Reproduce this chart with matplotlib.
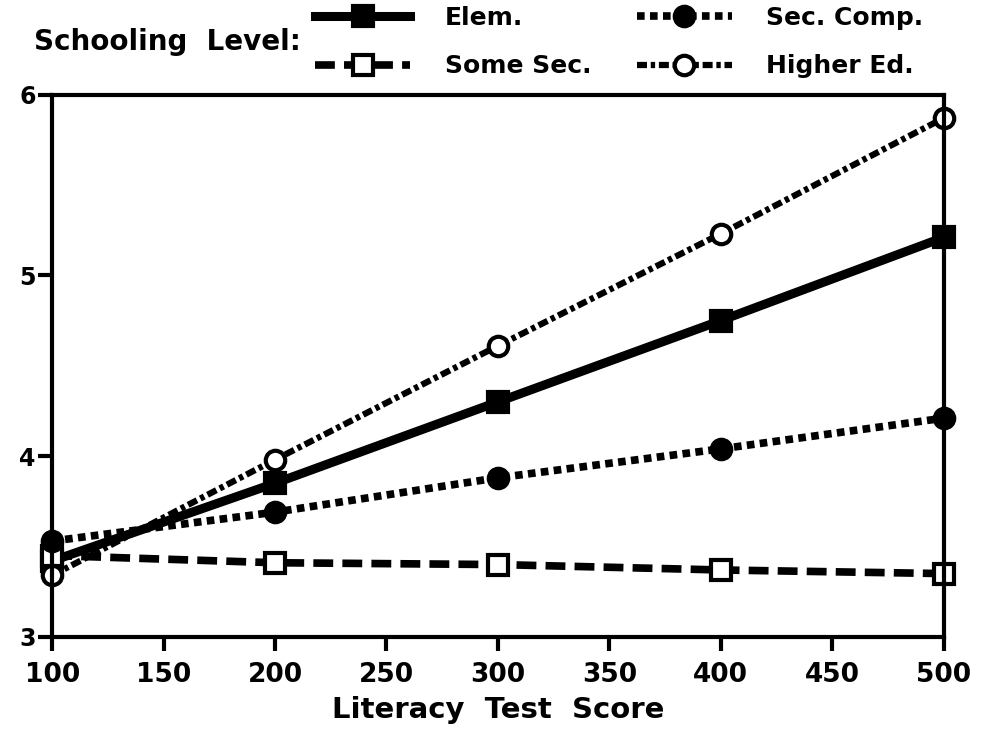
import numpy as np
import matplotlib.pyplot as plt
from matplotlib.lines import Line2D

# literacy score on x
scores = [100, 200, 300, 400, 500]
elem = [3.42, 3.85, 4.30, 4.75, 5.21]
some_sec = [3.45, 3.41, 3.40, 3.37, 3.35]
sec_comp = [3.53, 3.69, 3.88, 4.04, 4.21]
higher_ed = [3.34, 3.98, 4.61, 5.23, 5.87]

x_ticks = [100, 150, 200, 250, 300, 350, 400, 450, 500]
y_ticks = [3, 4, 5, 6]

plt.rcParams['font.family'] = ['DejaVu Sans']
plt.rcParams['font.weight'] = 'bold'

fig = plt.figure(figsize=(9.85, 7.51), dpi=100)
ax = fig.add_axes([0.053, 0.152, 0.905, 0.722])

styles = {
    'Elem.': dict(ls='-', marker='s', mfc='black', lw=6.5),
    'Some Sec.': dict(dashes=(2.6, 1.2), marker='s', mfc='white', lw=5.5),
    'Sec. Comp.': dict(dashes=(1.0, 0.7), marker='o', mfc='black', lw=5.5),
    'Higher Ed.': dict(dashes=(1.6, 0.6, 0.7, 0.6), marker='o', mfc='white', lw=4.5),
}
series = [('Elem.', elem), ('Some Sec.', some_sec),
          ('Sec. Comp.', sec_comp), ('Higher Ed.', higher_ed)]

handles = []
for name, vals in series:
    st = styles[name]
    l, = ax.plot(scores, vals, color='black', ms=14, mew=3, mec='black',
                 clip_on=False, label=name, **st)
    handles.append(l)

ax.set_xlim(100, 500)
ax.set_ylim(3, 6)
ax.set_xticks(x_ticks)
ax.set_yticks(y_ticks)
for s in ax.spines.values():
    s.set_linewidth(3)
ax.tick_params(direction='out', length=10, width=3, pad=8)
ax.tick_params(axis='x', labelsize=19)
ax.tick_params(axis='y', labelsize=17, pad=2)
ax.set_xlabel('Literacy  Test  Score', fontsize=21, fontweight='bold', labelpad=6)

fig.text(0.035, 0.944, 'Schooling  Level:', fontsize=20, fontweight='bold',
         va='center', ha='left')
leg = fig.legend(handles=handles, ncol=2, loc='upper left',
                 bbox_to_anchor=(315 / 985, 1 - 6 / 751), frameon=False, fontsize=18,
                 borderpad=0, borderaxespad=0,
                 handlelength=3.8, handletextpad=1.4, columnspacing=1.8,
                 labelspacing=0.97)

fig.savefig('out.png', dpi=100)
